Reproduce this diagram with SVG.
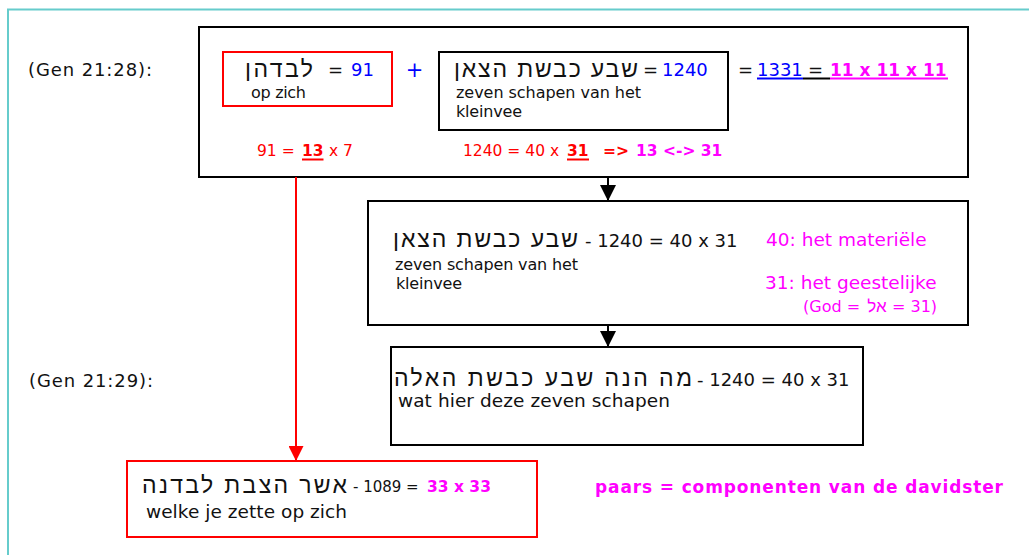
<svg xmlns="http://www.w3.org/2000/svg" width="1029" height="555" viewBox="0 0 1029 555">
<defs>
<style>
text{font-family:"DejaVu Sans","Verdana","Liberation Sans",sans-serif;fill:#111;}
.heb{font-family:"Liberation Sans","DejaVu Sans",sans-serif;text-anchor:middle;}
.t16{font-size:16px;}
.t17{font-size:18px;}
.t18{font-size:18.5px;}
.tr{font-size:15.5px;}
.blue{fill:#0000ff;}
.red{fill:#ff0000;}
.mag{fill:#ff00ff;}
.b{font-weight:bold;}
.box{fill:#fff;stroke:#000;stroke-width:2;}
.rbox{fill:#fff;stroke:#ff0000;stroke-width:2;}
</style>
<marker id="ah" markerWidth="16" markerHeight="16" viewBox="0 0 16 16" refX="16" refY="8" orient="auto" markerUnits="userSpaceOnUse">
<path d="M0,0 L16,8 L0,16 Z" fill="#000"/>
</marker>
<marker id="ahr" markerWidth="15" markerHeight="15" viewBox="0 0 16 16" refX="16" refY="8" orient="auto" markerUnits="userSpaceOnUse">
<path d="M0,0 L16,8 L0,16 Z" fill="#ff0000"/>
</marker>
</defs>
<rect x="0" y="0" width="1029" height="555" fill="#fff"/>
<rect x="8" y="9.5" width="1060" height="580" fill="none" stroke="#66CCCC" stroke-width="2"/>

<g id="labels">
<text class="t17" x="28" y="76" textLength="124" lengthAdjust="spacing">(Gen 21:28):</text>
<text class="t17" x="29" y="387" textLength="124" lengthAdjust="spacing">(Gen 21:29):</text>
</g>

<g id="node-gen2128">
<rect class="box" x="199" y="27" width="769" height="150"/>
<text class="tr red" x="257" y="156">91 =</text>
<text class="tr red b" x="302" y="156">13</text>
<line x1="302" y1="159.5" x2="323.5" y2="159.5" stroke="#ff0000" stroke-width="2"/>
<text class="tr red" x="329" y="156">x 7</text>
<text class="tr red" x="463" y="156">1240 = 40 x</text>
<text class="tr red b" x="567" y="156">31</text>
<line x1="567" y1="159.5" x2="589" y2="159.5" stroke="#ff0000" stroke-width="2"/>
<text class="tr red b" x="603" y="156">=&gt;</text>
<text class="tr mag b" x="636" y="156">13 &lt;-&gt; 31</text>
<text class="t17" x="738" y="76">=</text>
<text class="t17 blue" x="757" y="76">1331</text>
<text class="t17" x="808" y="76">=</text>
<text class="mag b" x="830" y="76" style="font-size:17px">11 x 11 x 11</text>
<line x1="757" y1="78.5" x2="803" y2="78.5" stroke="#0000ff" stroke-width="2"/>
<line x1="803" y1="78.5" x2="830" y2="78.5" stroke="#000" stroke-width="2"/>
<line x1="830" y1="78.5" x2="948" y2="78.5" stroke="#ff00ff" stroke-width="2"/>
<text class="blue" x="414.5" y="77" style="font-size:21px;text-anchor:middle">+</text>
</g>

<g id="node-lebadhen">
<rect class="rbox" x="223" y="52" width="169" height="54"/>
<text class="heb" x="279" y="77" style="font-size:23px" textLength="68" lengthAdjust="spacing">לבדהן</text>
<text class="t17" x="328" y="76">=</text>
<text class="t17 blue" x="351" y="76">91</text>
<text class="t16" x="251" y="98" textLength="55" lengthAdjust="spacing">op zich</text>
</g>

<g id="node-sheva">
<rect class="box" x="439" y="52" width="289" height="78"/>
<text class="heb" x="546" y="77" style="font-size:23px" textLength="184" lengthAdjust="spacing">שבע כבשת הצאן</text>
<text class="t17" x="643" y="76">=</text>
<text class="t17 blue" x="662" y="76">1240</text>
<text class="t16" x="456" y="98" textLength="185" lengthAdjust="spacing">zeven schapen van het</text>
<text class="t16" x="456" y="117" textLength="66" lengthAdjust="spacing">kleinvee</text>
</g>

<g id="node-1240">
<rect class="box" x="368" y="201" width="600" height="124"/>
<text class="heb" x="485.5" y="247" style="font-size:23px" textLength="185" lengthAdjust="spacing">שבע כבשת הצאן</text>
<text class="t17" x="585" y="247">- 1240 = 40 x 31</text>
<text class="t16" x="395" y="270" textLength="183" lengthAdjust="spacing">zeven schapen van het</text>
<text class="t16" x="396" y="289" textLength="66" lengthAdjust="spacing">kleinvee</text>
<text class="t18 mag" x="766" y="246">40: het materiële</text>
<text class="t18 mag" x="765" y="289">31: het geestelijke</text>
<text class="mag" x="803" y="312" style="font-size:16px">(God =</text>
<text class="mag heb" x="877" y="312" style="font-size:17px">אל</text>
<text class="mag" x="892" y="312" style="font-size:16px">= 31)</text>
</g>

<g id="node-gen2129">
<rect class="box" x="391" y="347" width="472" height="98"/>
<text class="heb" x="543" y="386" style="font-size:23px" textLength="298" lengthAdjust="spacing">מה הנה שבע כבשת האלה</text>
<text class="t17" x="697" y="386">- 1240 = 40 x 31</text>
<text class="t18" x="398" y="407" textLength="272" lengthAdjust="spacing">wat hier deze zeven schapen</text>
</g>

<g id="node-levadna">
<rect class="rbox" x="127" y="461" width="410" height="76"/>
<text class="heb" x="244.5" y="493" style="font-size:23px" textLength="205" lengthAdjust="spacing">אשר הצבת לבדנה</text>
<text x="353" y="492" style="font-size:15px">- 1089 =</text>
<text class="mag b" x="427" y="492" style="font-size:15.5px">33 x 33</text>
<text class="t18" x="146" y="518" textLength="201" lengthAdjust="spacing">welke je zette op zich</text>
</g>

<g id="legend">
<text class="mag b" x="595" y="493" style="font-size:17px" textLength="408" lengthAdjust="spacing">paars = componenten van de davidster</text>
</g>

<g id="connectors">
<line x1="608" y1="177" x2="608" y2="201" stroke="#000" stroke-width="2" marker-end="url(#ah)"/>
<line x1="608" y1="325" x2="608" y2="347" stroke="#000" stroke-width="2" marker-end="url(#ah)"/>
<line x1="296" y1="177" x2="296" y2="461" stroke="#ff0000" stroke-width="2" marker-end="url(#ahr)"/>
</g>
</svg>
